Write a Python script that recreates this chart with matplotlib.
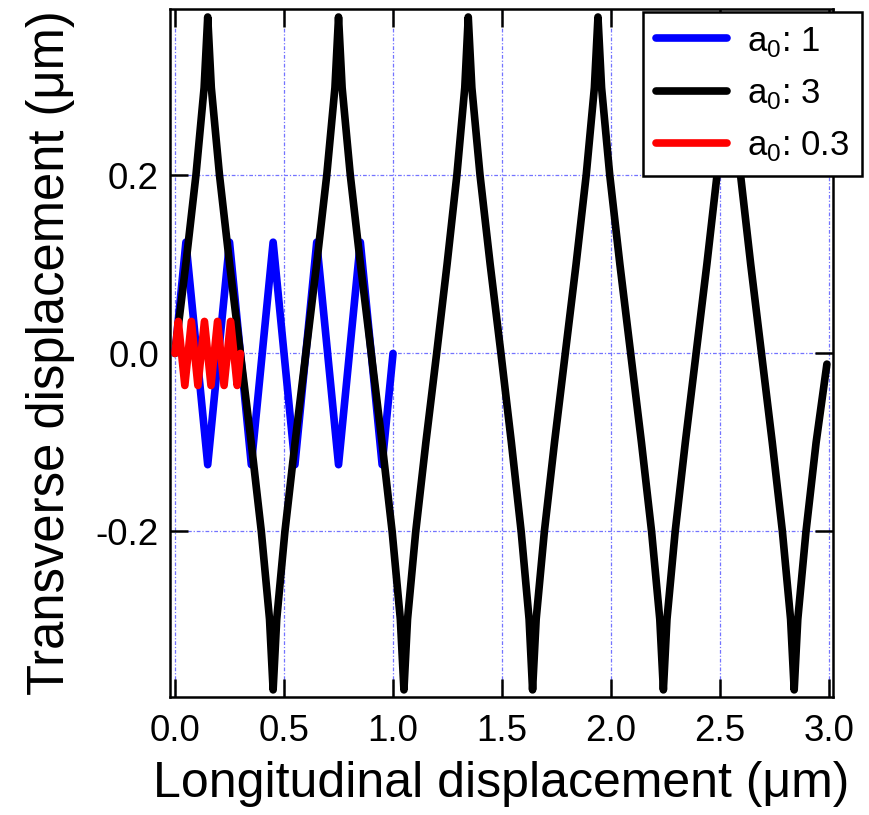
import matplotlib
matplotlib.use('Agg')
import matplotlib.pyplot as plt

plt.rcParams['font.family'] = ['Liberation Sans', 'DejaVu Sans']
plt.rcParams['mathtext.fontset'] = 'custom'
plt.rcParams['mathtext.rm'] = 'Liberation Sans'
plt.rcParams['axes.unicode_minus'] = False

# a0 = 1 trajectory (blue)
x_a1 = [0.0, 0.05, 0.15, 0.25, 0.35, 0.45, 0.55, 0.65, 0.75, 0.85, 0.95, 1.0]
y_a1 = [0.0, 0.125, -0.125, 0.125, -0.125, 0.125, -0.125, 0.125, -0.125, 0.125, -0.125, 0.0]

# a0 = 3 trajectory (black): zero crossings, turning points, and the shape of one arc
a3_zero_x = [0.0, 0.30, 0.60, 0.90, 1.20, 1.495, 1.79, 2.09, 2.39, 2.69, 2.99]
a3_peak_x = [0.15, 0.45, 0.75, 1.05, 1.345, 1.64, 1.94, 2.24, 2.54, 2.84]
a3_peak_y = [0.378, -0.378, 0.378, -0.378, 0.378, -0.378, 0.378, -0.378, 0.378, -0.378]
arc_pos = [0.0, 0.33, 0.64, 0.89, 1.0]      # fraction of the way from zero crossing to tip
arc_level = [0.0, 0.265, 0.53, 0.79, 1.0]   # fraction of the tip height
a3_end = (2.99, -0.012)

# a0 = 0.3 trajectory (red)
x_a03 = [0.0, 0.015, 0.045, 0.075, 0.105, 0.135, 0.165, 0.195, 0.225, 0.255, 0.285, 0.30]
y_a03 = [0.0, 0.036, -0.036, 0.036, -0.036, 0.036, -0.036, 0.036, -0.036, 0.036, -0.036, 0.0]

labels = [r'a$_{\mathregular{0}}$: 1', r'a$_{\mathregular{0}}$: 3', r'a$_{\mathregular{0}}$: 0.3']
xticks = [0.0, 0.5, 1.0, 1.5, 2.0, 2.5, 3.0]
yticks = [-0.2, 0.0, 0.2]

x_a3, y_a3 = [], []
for i in range(len(a3_peak_x)):
    z0, z1, p, a = a3_zero_x[i], a3_zero_x[i + 1], a3_peak_x[i], a3_peak_y[i]
    for f, l in zip(arc_pos[:-1], arc_level[:-1]):
        x_a3.append(z0 + f * (p - z0)); y_a3.append(l * a)
    x_a3.append(p); y_a3.append(a)
    for f, l in zip(arc_pos[-2::-1], arc_level[-2::-1]):
        x_a3.append(z1 - f * (z1 - p)); y_a3.append(l * a)
x_a3[-1], y_a3[-1] = a3_end

fig = plt.figure(figsize=(8.7, 8.15), dpi=100)
ax = fig.add_axes([170/870, 1 - 697/815, 663/870, 688/815])

lw = 5.5
style = dict(lw=lw, solid_capstyle='round', solid_joinstyle='round')
ax.plot(x_a1, y_a1, color='#0000ff', label=labels[0], zorder=3, **style)
ax.plot(x_a3, y_a3, color='black', label=labels[1], zorder=4, **style)
ax.plot(x_a03, y_a03, color='#ff0000', label=labels[2], zorder=5, **style)

ax.set_xlim(-0.023, 3.018)
ax.set_ylim(-0.386, 0.387)
ax.set_xticks(xticks)
ax.set_yticks(yticks)
ax.set_xticklabels(['%.1f' % t for t in xticks])
ax.set_yticklabels(['%.1f' % t for t in yticks])

ax.grid(True, color='#7373ff', lw=0.9, linestyle=(0, (3, 1.5, 1, 1.5)))
ax.set_axisbelow(True)
ax.tick_params(direction='in', length=13, width=1.8, top=True, right=True,
               labelsize=26.5)
ax.tick_params(axis='x', pad=12)
ax.tick_params(axis='y', pad=8)
for s in ax.spines.values():
    s.set_linewidth(1.8)

ax.set_xlabel('Longitudinal displacement (\u03bcm)', fontsize=36, labelpad=9)
ax.set_ylabel('Transverse displacement (\u03bcm)', fontsize=36.5, labelpad=15)

leg = ax.legend(loc='upper right', bbox_to_anchor=(1.044, 0.996), borderaxespad=0,
                fontsize=25, fancybox=False, framealpha=1, edgecolor='black',
                handlelength=2.05, handletextpad=0.58, labelspacing=0.53, borderpad=0.37)
leg.get_frame().set_linewidth(1.8)
leg.set_zorder(10)

fig.savefig('out.png', dpi=100)
